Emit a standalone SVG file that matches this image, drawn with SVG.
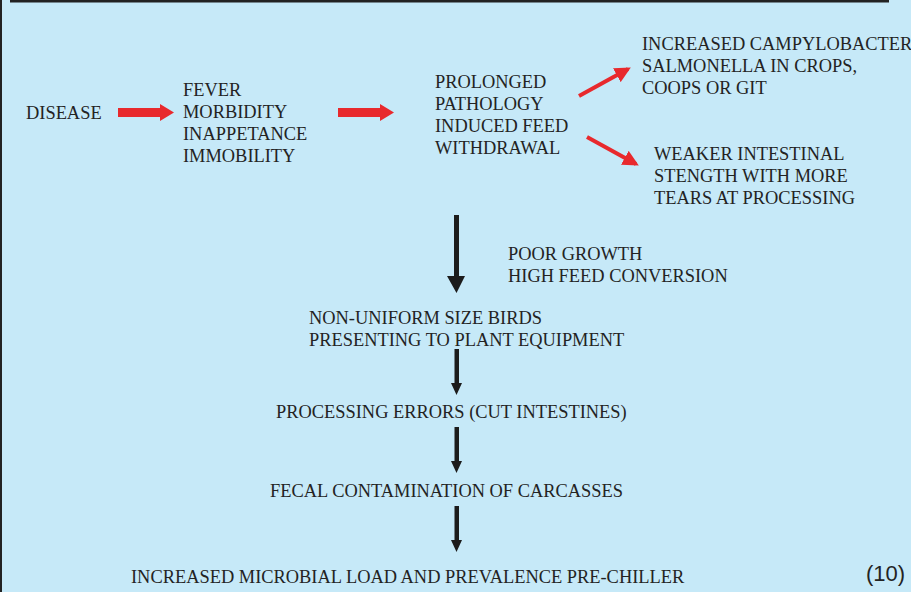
<svg xmlns="http://www.w3.org/2000/svg" width="911" height="592" viewBox="0 0 911 592">
<defs>
<style>
.t{font-family:"Liberation Serif","Times New Roman",serif;font-size:18.4px;fill:#232323}
.red{fill:#e8292d;stroke:none}
.redl{stroke:#e8292d;stroke-width:4;fill:none}
.blk{fill:#1c1c1c;stroke:none}
</style>
<marker id="rh" markerWidth="4" markerHeight="4" refX="3.2" refY="2" orient="auto" markerUnits="strokeWidth" viewBox="0 0 4 4">
<path d="M0,0 L4,2 L0,4 Z" fill="#e8292d"/>
</marker>
</defs>
<rect width="911" height="592" fill="#c6e9f8"/>
<rect x="0" y="0" width="2" height="592" fill="#222"/>
<rect x="10" y="0" width="879" height="2.5" fill="#222"/>

<g id="connectors">
<path class="red" d="M118,108 H160 V104 L174,112.5 L160,121 V117 H118 Z"/>
<path class="red" d="M338,108 H380 V104 L394,112.5 L380,121 V117 H338 Z"/>
<line class="redl" x1="579" y1="96" x2="628" y2="69" marker-end="url(#rh)"/>
<line class="redl" x1="587" y1="137" x2="636" y2="164" marker-end="url(#rh)"/>
<path class="blk" d="M454,215 H459 V276 H465 L456.5,293 L447,276 H454 Z"/>
<path class="blk" d="M454.5,349 H459 V383 H462 L456.5,395 L451,383 H454.5 Z"/>
<path class="blk" d="M454.5,427 H459 V461 H462 L456.5,473 L451,461 H454.5 Z"/>
<path class="blk" d="M454.5,506 H459 V540 H462 L456.5,552 L451,540 H454.5 Z"/>
</g>

<g id="disease"><text class="t" x="26" y="119">DISEASE</text></g>
<g id="symptoms">
<text class="t" x="183" y="96">FEVER</text>
<text class="t" x="183" y="118">MORBIDITY</text>
<text class="t" x="183" y="140">INAPPETANCE</text>
<text class="t" x="183" y="162">IMMOBILITY</text>
</g>
<g id="withdrawal">
<text class="t" x="435" y="88">PROLONGED</text>
<text class="t" x="435" y="110">PATHOLOGY</text>
<text class="t" x="435" y="132">INDUCED FEED</text>
<text class="t" x="435" y="154">WITHDRAWAL</text>
</g>
<g id="campylobacter">
<text class="t" x="642" y="50">INCREASED CAMPYLOBACTER</text>
<text class="t" x="642" y="72">SALMONELLA IN CROPS,</text>
<text class="t" x="642" y="94">COOPS OR GIT</text>
</g>
<g id="weaker">
<text class="t" x="654" y="160">WEAKER INTESTINAL</text>
<text class="t" x="654" y="182">STENGTH WITH MORE</text>
<text class="t" x="654" y="204">TEARS AT PROCESSING</text>
</g>
<g id="growth">
<text class="t" x="508" y="260">POOR GROWTH</text>
<text class="t" x="508" y="282">HIGH FEED CONVERSION</text>
</g>
<g id="nonuniform">
<text class="t" x="309" y="324">NON-UNIFORM SIZE BIRDS</text>
<text class="t" x="309" y="346">PRESENTING TO PLANT EQUIPMENT</text>
</g>
<g id="errors"><text class="t" x="276" y="418">PROCESSING ERRORS (CUT INTESTINES)</text></g>
<g id="fecal"><text class="t" x="270" y="497">FECAL CONTAMINATION OF CARCASSES</text></g>
<g id="microbial"><text class="t" x="131" y="583">INCREASED MICROBIAL LOAD AND PREVALENCE PRE-CHILLER</text></g>
<text x="866" y="581" font-family="Liberation Sans, Arial, sans-serif" font-size="22" fill="#232323">(10)</text>
</svg>
